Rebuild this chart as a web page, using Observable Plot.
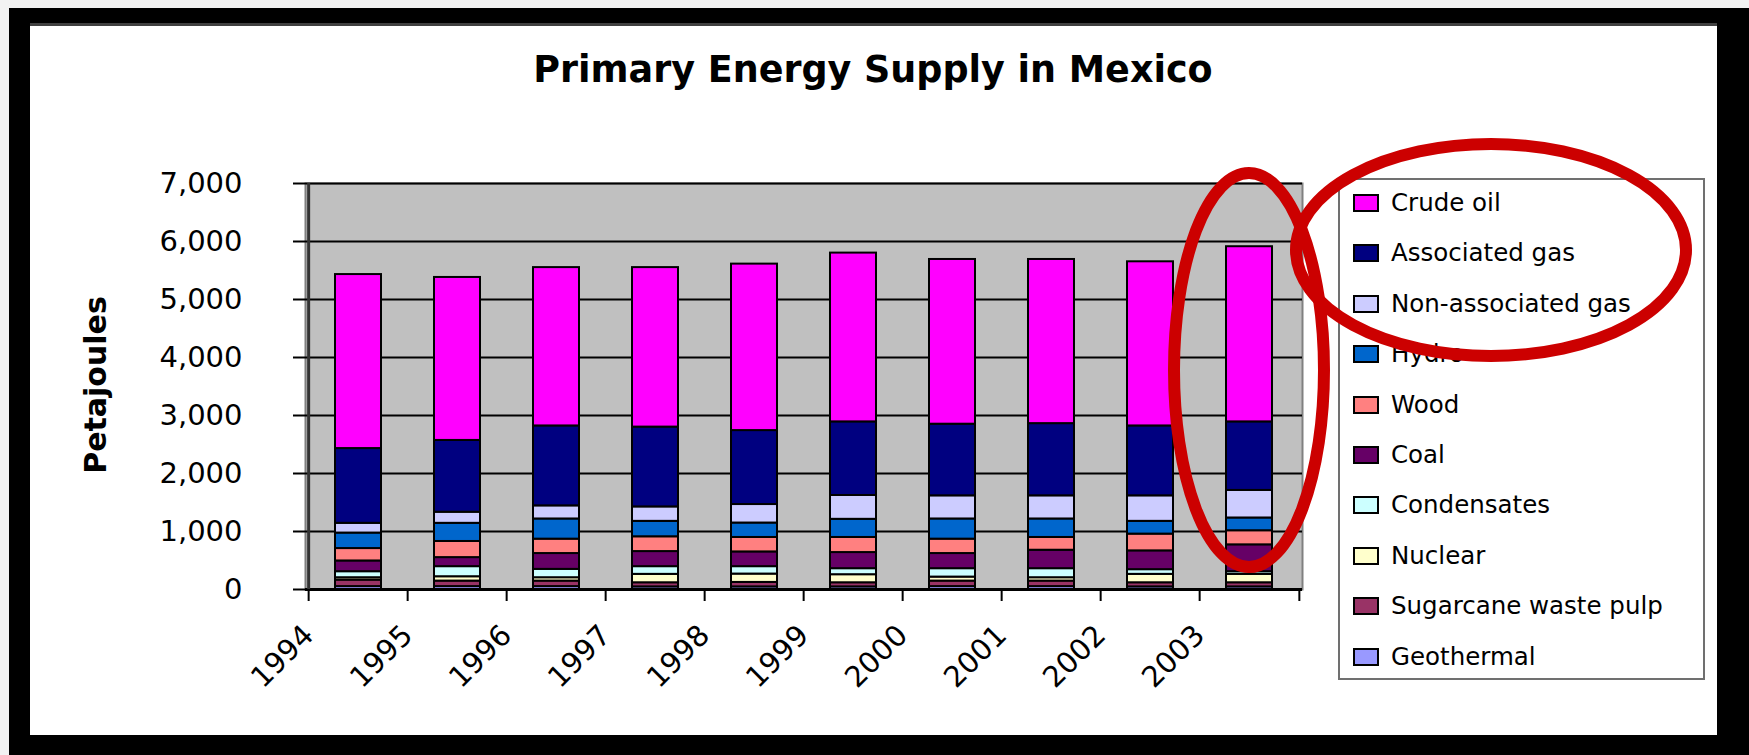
<!DOCTYPE html>
<html><head><meta charset="utf-8">
<script src="https://cdn.jsdelivr.net/npm/d3@7"></script>
<script src="https://cdn.jsdelivr.net/npm/@observablehq/plot@0.6"></script>
<style>
html,body{margin:0;padding:0;}
body{width:1749px;height:755px;background:#f2f2f2;position:relative;overflow:hidden;font-family:"DejaVu Sans",sans-serif;}
#black{position:absolute;left:9px;top:8px;width:1740px;height:747px;background:#000;}
#white{position:absolute;left:30px;top:23px;width:1687px;height:709px;background:#fff;border-top:3px solid #404040;}
#chart{position:absolute;left:0;top:0;}
#legend{position:absolute;left:1338px;top:178px;width:363px;height:498px;border:2px solid #707070;background:#fff;}
.row{position:absolute;left:0;height:0;width:100%;}
.sw{position:absolute;left:13px;width:22px;height:14px;border:2px solid #000;top:-9px;}
.lab{position:absolute;left:51px;top:-15px;font-size:24.5px;line-height:30px;white-space:nowrap;color:#000;}
#overlay{position:absolute;left:0;top:0;pointer-events:none;}
</style></head><body>
<div id="black"></div><div id="white"></div>
<div id="chart"></div>
<div id="legend"></div>
<svg id="overlay" width="1749" height="755" xmlns="http://www.w3.org/2000/svg"></svg>
<script>
const years = ["1994","1995","1996","1997","1998","1999","2000","2001","2002","2003"];
const series = ["Geothermal","Sugarcane waste pulp","Nuclear","Condensates","Coal","Wood","Hydro","Non-associated gas","Associated gas","Crude oil"];
const colors = ["#9999ff","#993366","#ffffcc","#ccffff","#660066","#ff8080","#0066cc","#ccccff","#000080","#ff00ff"];
const yTicks = [0,1000,2000,3000,4000,5000,6000,7000];

const geothermal  = [50, 50, 50, 45, 45, 45, 50, 50, 45, 45];
const sugarcane   = [112, 95, 95, 71, 77, 71, 95, 95, 71, 71];
const nuclear     = [41, 75, 58, 145, 144, 139, 69, 58, 145, 145];
const condensates = [104, 174, 144, 133, 128, 104, 145, 156, 81, 46];
const coal        = [185, 156, 273, 260, 254, 278, 261, 318, 324, 463];
const wood        = [214, 278, 248, 255, 249, 260, 248, 220, 289, 243];
const hydro       = [267, 313, 348, 266, 249, 313, 348, 319, 220, 220];
const nonAssocGas = [168, 191, 226, 249, 319, 411, 399, 399, 440, 475];
const assocGas    = [1289, 1238, 1378, 1376, 1275, 1269, 1235, 1245, 1205, 1182];
const crudeOil    = [3000, 2810, 2730, 2750, 2870, 2910, 2840, 2830, 2830, 3020];

const values = [geothermal, sugarcane, nuclear, condensates, coal, wood, hydro, nonAssocGas, assocGas, crudeOil];
const rows = series.flatMap((s, i) => years.map((y, j) => ({year: y, series: s, value: values[i][j]})));

const W = 1749, H = 755, ML = 305, MR = 447, MT = 183, MB = 166;
const step = (W - ML - MR) / years.length;

const chart = Plot.plot({
  width: W, height: H,
  marginLeft: ML, marginRight: MR, marginTop: MT, marginBottom: MB,
  style: {background: "transparent", fontFamily: "DejaVu Sans", fontSize: "29px", color: "#000", overflow: "visible"},
  x: {domain: years, paddingInner: 0.54, paddingOuter: 0.27, axis: null},
  y: {domain: [0, 7000], axis: null},
  color: {domain: series, range: colors},
  marks: [
    Plot.frame({fill: "#c0c0c0", stroke: "#808080", strokeWidth: 2}),
    Plot.gridY(yTicks, {stroke: "#000", strokeOpacity: 1, strokeWidth: 2}),
    Plot.barY(rows, {x: "year", y: "value", fill: "series", stroke: "#000", strokeWidth: 2}),
    Plot.ruleY([0], {stroke: "#000", strokeWidth: 3}),
    Plot.ruleX([years[0]], {dx: -step / 2, stroke: "#333", strokeWidth: 3}),
    Plot.axisY(yTicks, {tickFormat: d3.format(","), tickSize: 12, tickPadding: 51, label: null, strokeWidth: 2}),
    Plot.axisX(years, {tickRotate: -45, tickSize: 12, tickPadding: 29, dx: -step / 2, label: null, strokeWidth: 2}),
    Plot.axisX([years[years.length - 1]], {tickSize: 12, tickFormat: () => "", dx: step / 2, label: null, strokeWidth: 2})
  ]
});
document.getElementById("chart").appendChild(chart);

// legend (top series first, as in the original)
const legend = document.getElementById("legend");
series.slice().reverse().forEach((s, i) => {
  const row = document.createElement("div");
  row.className = "row";
  row.style.top = (23 + i * 50.4) + "px";
  const sw = document.createElement("div");
  sw.className = "sw";
  sw.style.background = colors[series.indexOf(s)];
  const lab = document.createElement("div");
  lab.className = "lab";
  lab.textContent = s;
  row.appendChild(sw); row.appendChild(lab);
  legend.appendChild(row);
});

// title, axis title and red annotation ellipses
const ov = d3.select("#overlay");
ov.append("text").attr("x", 873).attr("y", 82).attr("text-anchor", "middle")
  .attr("font-family", "DejaVu Sans").attr("font-weight", "bold").attr("font-size", 36.5)
  .text("Primary Energy Supply in Mexico");
ov.append("text").attr("transform", "translate(106,385) rotate(-90)").attr("text-anchor", "middle")
  .attr("font-family", "DejaVu Sans").attr("font-weight", "bold").attr("font-size", 30)
  .text("Petajoules");
ov.append("ellipse").attr("cx", 1249).attr("cy", 370).attr("rx", 75).attr("ry", 197)
  .attr("fill", "none").attr("stroke", "#cc0000").attr("stroke-width", 12);
ov.append("ellipse").attr("cx", 1491).attr("cy", 250).attr("rx", 195).attr("ry", 106)
  .attr("fill", "none").attr("stroke", "#cc0000").attr("stroke-width", 12);
</script>
</body></html>
